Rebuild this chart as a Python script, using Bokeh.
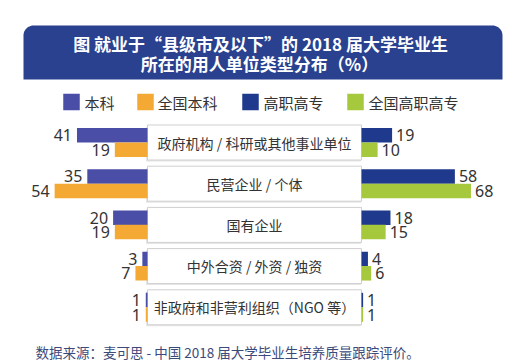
import numpy as np
from bokeh.plotting import figure
from bokeh.models import Range1d, ColumnDataSource
from bokeh.core.properties import value
from bokeh.embed import file_html
from bokeh.resources import INLINE

# ---- data ----
title_lines = ["图  就业于“县级市及以下”的 2018 届大学毕业生", "所在的用人单位类型分布（%）"]
series = ["本科", "全国本科", "高职高专", "全国高职高专"]
colors = ["#4a4ea6", "#f5a935", "#1f3a8c", "#a6c83c"]
categories = ["政府机构 / 科研或其他事业单位", "民营企业 / 个体", "国有企业",
              "中外合资 / 外资 / 独资", "非政府和非营利组织（NGO 等）"]
benke = [41, 35, 20, 3, 1]
quanguo_benke = [19, 54, 19, 7, 1]
gaozhi = [19, 58, 18, 4, 1]
quanguo_gaozhi = [10, 68, 15, 6, 1]
source_note = "数据来源：麦可思 - 中国 2018 届大学毕业生培养质量跟踪评价。"

W, H = 513, 364
CJK = value("Noto Sans CJK SC")
NUM = value("Noto Sans")

p = figure(width=W, height=H, output_backend="svg", toolbar_location=None,
           x_range=Range1d(0, W), y_range=Range1d(H, 0),
           min_border=0, outline_line_color=None, background_fill_color="white",
           border_fill_color="white")
p.axis.visible = False
p.grid.visible = False

# extra ranges: left mirrored scale, right scale, rows
left_zero, left_k = 147, 1.72
right_zero, right_k = 361, 1.61
p.extra_x_ranges = {
    "L": Range1d(start=left_zero / left_k, end=-(W - left_zero) / left_k),
    "R": Range1d(start=-right_zero / right_k, end=(W - right_zero) / right_k),
}
row0, pitch = 142, 41.2
p.extra_y_ranges = {"rows": Range1d(start=(H - row0) / pitch, end=-row0 / pitch)}

rows = list(range(len(categories)))
bh = 14.5 / pitch
off = 0.175

# ---- title banner with rounded top corners ----
bx0, bx1, by0, by1, r = 23, 502, 25, 79, 10
t1 = np.linspace(np.pi, 1.5 * np.pi, 12)
t2 = np.linspace(1.5 * np.pi, 2 * np.pi, 12)
xs = [bx0] + list(bx0 + r + r * np.cos(t1)) + list(bx1 - r + r * np.cos(t2)) + [bx1]
ys = [by1] + list(by0 + r + r * np.sin(t1)) + list(by0 + r + r * np.sin(t2)) + [by1]
p.patch(xs, ys, fill_color="#29418f", line_color=None)
p.text(x=[262, 259], y=[43, 63], text=title_lines, text_font=CJK, text_font_size="17px",
       text_font_style="bold", text_color="white", text_align="center", text_baseline="middle")

# ---- legend ----
leg_sq_x = [63, 137, 242, 347]
leg_tx_x = [84, 157, 263, 368]
leg_y = 101.5
p.rect(x=[x + 8 for x in leg_sq_x], y=[leg_y] * 4, width=16.5, height=16.5,
       fill_color=colors, line_color=None)
p.text(x=leg_tx_x, y=[leg_y] * 4, text=series, text_font=CJK, text_font_size="15px",
       text_color="#333333", text_align="left", text_baseline="middle")

# ---- category boxes ----
box_l, box_r = left_zero, right_zero
bhgt = 35 / pitch
p.quad(left=box_l - 1.5, right=box_r - 0.5, top=[i - bhgt / 2 + 2 / pitch for i in rows],
       bottom=[i + bhgt / 2 + 1.5 / pitch for i in rows], y_range_name="rows",
       fill_color="#e6e6e6", line_color=None)
p.quad(left=box_l, right=box_r, top=[i - bhgt / 2 for i in rows],
       bottom=[i + bhgt / 2 for i in rows], y_range_name="rows",
       fill_color="white", line_color="#cfcfcf", line_width=1)
p.text(x=[(box_l + box_r) / 2] * len(rows), y=rows, text=categories, y_range_name="rows",
       text_font=CJK, text_font_size="14px", text_color="#333333",
       text_align="center", text_baseline="middle")

# ---- bars ----
def bars(vals, yoff, color, rng, side):
    ys_ = [i + yoff for i in rows]
    src = ColumnDataSource(dict(y=ys_, v=vals, t=[str(v) for v in vals]))
    p.hbar(y="y", left=0, right="v", height=bh, source=src, fill_color=color,
           line_color=None, x_range_name=rng, y_range_name="rows")
    p.text(x="v", y="y", text="t", source=src, x_range_name=rng, y_range_name="rows",
           x_offset=(-5 if side == "L" else 4), text_font=NUM, text_font_size="16px",
           text_color="#333333", text_align=("right" if side == "L" else "left"),
           text_baseline="middle")

bars(benke, -off, colors[0], "L", "L")
bars(quanguo_benke, off, colors[1], "L", "L")
bars(gaozhi, -off, colors[2], "R", "R")
bars(quanguo_gaozhi, off, colors[3], "R", "R")

# ---- source note ----
p.text(x=[35], y=[351.5], text=[source_note], text_font=CJK, text_font_size="13.5px",
       text_color="#3b4a7a", text_align="left", text_baseline="middle")

open("out.html", "w").write(file_html(p, INLINE))
